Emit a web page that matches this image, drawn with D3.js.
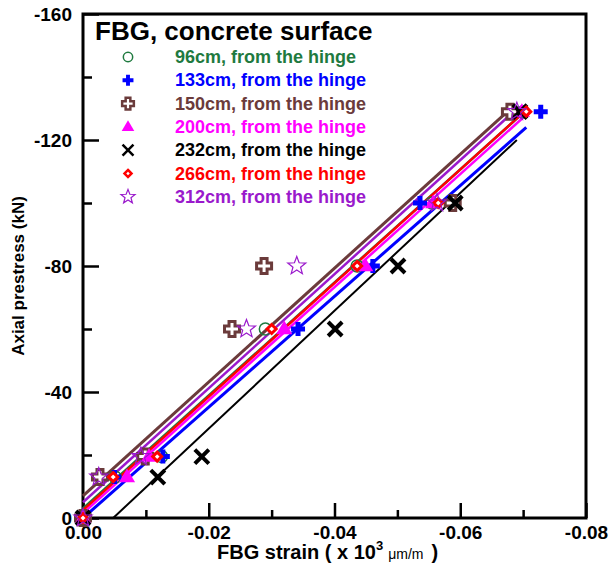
<!DOCTYPE html>
<html>
<head>
<meta charset="utf-8">
<script src="https://cdn.jsdelivr.net/npm/d3@7"></script>
<style>
  body { margin: 0; background: #fff; }
  text { font-family: "Liberation Sans", Arial, sans-serif; font-weight: bold; }
</style>
</head>
<body>
<div id="chart"></div>
<script>
// Data
const seriesLabels = ["96cm, from the hinge", "133cm, from the hinge", "150cm, from the hinge",
  "200cm, from the hinge", "232cm, from the hinge", "266cm, from the hinge", "312cm, from the hinge"];
const loadLevels = [0, -13, -19.5, -60, -80, -100, -129];

const strain96 = [0, -0.0051, -0.0125, -0.0290, -0.0436, -0.0555, -0.0700];
const strain133 = [0, -0.0050, -0.0127, -0.0342, -0.0461, -0.0536, -0.0728];
const strain150 = [0, -0.0027, -0.0099, -0.0237, -0.0288, -0.0588, -0.0679];
const strain200 = [0, -0.0070, -0.0105, -0.0320, -0.0449, -0.0557, -0.0698];
const strain232 = [0, -0.0119, -0.0189, -0.0401, -0.0501, -0.0592, -0.0695];
const strain266 = [0, -0.0048, -0.0118, -0.0300, -0.0436, -0.0565, -0.0705];
const strain312 = [0, -0.0025, -0.0092, -0.0260, -0.0340, -0.0563, -0.0690];

// fitted lines: [strain, load] at both ends
const fit96 = [[0, -3], [-0.0705, -129.5]];
const fit133 = [[0, 0], [-0.0705, -124]];
const fit150 = [[0, -7], [-0.0675, -129]];
const fit200 = [[0, -1.5], [-0.0705, -128]];
const fit232 = [[-0.0048, 0], [-0.069, -120]];
const fit266 = [[0, -2.5], [-0.0702, -129]];
const fit312 = [[0, -5], [-0.0685, -129]];

const xTicks = [0, -0.02, -0.04, -0.06, -0.08];
const xMinorTicks = [-0.01, -0.03, -0.05, -0.07];
const yTicks = [0, -40, -80, -120, -160];
const yMinorTicks = [-20, -60, -100, -140];

const strains = [strain96, strain133, strain150, strain200, strain232, strain266, strain312];
const fits = [fit96, fit133, fit150, fit200, fit232, fit266, fit312];
const colors = ["#1f7a3f", "#0000ff", "#6b3b3b", "#ff00ff", "#000000", "#ff0000", "#9a19cc"];
const shapes = ["circle", "plus", "openCross", "triangle", "x", "diamond", "star"];

// Dimensions
let dimensions = {
  width: 610,
  height: 574,
  left: 83,
  right: 586,
  top: 14,
  bottom: 518,
};

const svg = d3
  .select("#chart")
  .append("svg")
  .attr("width", dimensions.width)
  .attr("height", dimensions.height);

// Scales
const xScale = d3.scaleLinear().domain([0, -0.08]).range([dimensions.left, dimensions.right]);
const yScale = d3.scaleLinear().domain([0, -160]).range([dimensions.bottom, dimensions.top]);

// marker paths, s = scale
function markerPath(shape, s) {
  const p = d3.path();
  if (shape === "circle") {
    p.arc(0, 0, 6 * s, 0, 2 * Math.PI);
  } else if (shape === "plus" || shape === "openCross") {
    const a = (shape === "plus" ? 7 : 7.5) * s, b = (shape === "plus" ? 2.5 : 3) * s;
    p.moveTo(-b, -a); p.lineTo(b, -a); p.lineTo(b, -b); p.lineTo(a, -b); p.lineTo(a, b);
    p.lineTo(b, b); p.lineTo(b, a); p.lineTo(-b, a); p.lineTo(-b, b); p.lineTo(-a, b);
    p.lineTo(-a, -b); p.lineTo(-b, -b); p.closePath();
  } else if (shape === "triangle") {
    const r = 8.5 * s;
    p.moveTo(0, -r); p.lineTo(r * 0.95, r * 0.62); p.lineTo(-r * 0.95, r * 0.62); p.closePath();
  } else if (shape === "x") {
    const a = 7 * s;
    p.moveTo(-a, -a); p.lineTo(a, a); p.moveTo(a, -a); p.lineTo(-a, a);
  } else if (shape === "diamond") {
    const a = 4.5 * s;
    p.moveTo(0, -a); p.lineTo(a, 0); p.lineTo(0, a); p.lineTo(-a, 0); p.closePath();
  } else if (shape === "star") {
    const R = 9.5 * s, r = 4 * s;
    for (let i = 0; i < 10; i++) {
      const ang = -Math.PI / 2 + i * Math.PI / 5;
      const rr = i % 2 === 0 ? R : r;
      const px = rr * Math.cos(ang), py = rr * Math.sin(ang);
      if (i === 0) p.moveTo(px, py); else p.lineTo(px, py);
    }
    p.closePath();
  }
  return p.toString();
}

function styleMarker(sel, shape, color) {
  if (shape === "circle") sel.attr("fill", "none").attr("stroke", color).attr("stroke-width", 1.5);
  else if (shape === "plus") sel.attr("fill", color).attr("stroke", "none");
  else if (shape === "openCross") sel.attr("fill", "#fff").attr("stroke", color).attr("stroke-width", 3);
  else if (shape === "triangle") sel.attr("fill", color).attr("stroke", "none");
  else if (shape === "x") sel.attr("fill", "none").attr("stroke", color).attr("stroke-width", 4);
  else if (shape === "diamond") sel.attr("fill", "#fff").attr("stroke", color).attr("stroke-width", 3);
  else if (shape === "star") sel.attr("fill", "none").attr("stroke", color).attr("stroke-width", 1.2);
}

// Axes
const xAxis = svg
  .append("g")
  .attr("transform", `translate(0, ${dimensions.bottom})`)
  .call(d3.axisBottom(xScale).tickValues(xTicks).tickSize(-15).tickPadding(8).tickFormat((d) => d.toFixed(2)));
const xMinor = svg
  .append("g")
  .attr("transform", `translate(0, ${dimensions.bottom})`)
  .call(d3.axisBottom(xScale).tickValues(xMinorTicks).tickSize(-8).tickFormat(""));
const yAxis = svg
  .append("g")
  .attr("transform", `translate(${dimensions.left}, 0)`)
  .call(d3.axisLeft(yScale).tickValues(yTicks).tickSize(-16).tickPadding(11).tickFormat((d) => String(d)));
const yMinor = svg
  .append("g")
  .attr("transform", `translate(${dimensions.left}, 0)`)
  .call(d3.axisLeft(yScale).tickValues(yMinorTicks).tickSize(-9).tickFormat(""));

[xAxis, xMinor, yAxis, yMinor].forEach((g) => {
  g.select(".domain").remove();
  g.selectAll(".tick line").attr("stroke", "#000").attr("stroke-width", 2.5);
  g.selectAll(".tick text")
    .attr("fill", "#000")
    .style("font-size", "19px")
    .style("font-family", '"Liberation Sans", Arial, sans-serif')
    .style("font-weight", "bold");
});

// frame
svg
  .append("rect")
  .attr("x", dimensions.left)
  .attr("y", dimensions.top)
  .attr("width", dimensions.right - dimensions.left)
  .attr("height", dimensions.bottom - dimensions.top)
  .attr("fill", "none")
  .attr("stroke", "#000")
  .attr("stroke-width", 3);

// fitted lines
const lineGenerator = d3
  .line()
  .x((d) => xScale(d[0]))
  .y((d) => yScale(d[1]));
const lineWidths = [2.5, 3, 3, 2.5, 2, 2.5, 2.5];
fits.forEach((f, i) => {
  svg
    .append("path")
    .datum(f)
    .attr("d", lineGenerator)
    .attr("fill", "none")
    .attr("stroke", colors[i])
    .attr("stroke-width", lineWidths[i]);
});

// points
strains.forEach((s, i) => {
  const pts = s.map((v, j) => [v, loadLevels[j]]);
  const m = svg
    .append("g")
    .selectAll("path")
    .data(pts)
    .join("path")
    .attr("transform", (d) => `translate(${xScale(d[0])}, ${yScale(d[1])})`)
    .attr("d", markerPath(shapes[i], 1));
  styleMarker(m, shapes[i], colors[i]);
});

// title + legend
svg
  .append("text")
  .attr("x", 95)
  .attr("y", 40)
  .style("font-size", "26px")
  .text("FBG, concrete surface");

seriesLabels.forEach((label, i) => {
  const yy = 63 + i * 23.3;
  const mk = svg
    .append("path")
    .attr("transform", `translate(128, ${yy - 6})`)
    .attr("d", markerPath(shapes[i], 0.78));
  styleMarker(mk, shapes[i], colors[i]);
  if (shapes[i] === "openCross" || shapes[i] === "diamond" || shapes[i] === "x") mk.attr("stroke-width", 2.5);
  svg
    .append("text")
    .attr("x", 175)
    .attr("y", yy)
    .attr("fill", colors[i])
    .style("font-size", "18px")
    .text(label);
});

// axis titles
const xLabel = svg
  .append("text")
  .attr("x", 217)
  .attr("y", 559)
  .style("font-size", "20px");
xLabel.append("tspan").text("FBG strain ( x 10");
xLabel.append("tspan").attr("dy", -9).style("font-size", "13px").text("3");
xLabel.append("tspan").attr("dy", 9).attr("dx", 5).style("font-size", "14px").style("font-weight", "normal").text("\u03bcm/m");
xLabel.append("tspan").attr("dx", 8).text(")");

svg
  .append("text")
  .attr("transform", "translate(24, 276) rotate(-90)")
  .attr("text-anchor", "middle")
  .style("font-size", "17px")
  .text("Axial prestress (kN)");
</script>
</body>
</html>
